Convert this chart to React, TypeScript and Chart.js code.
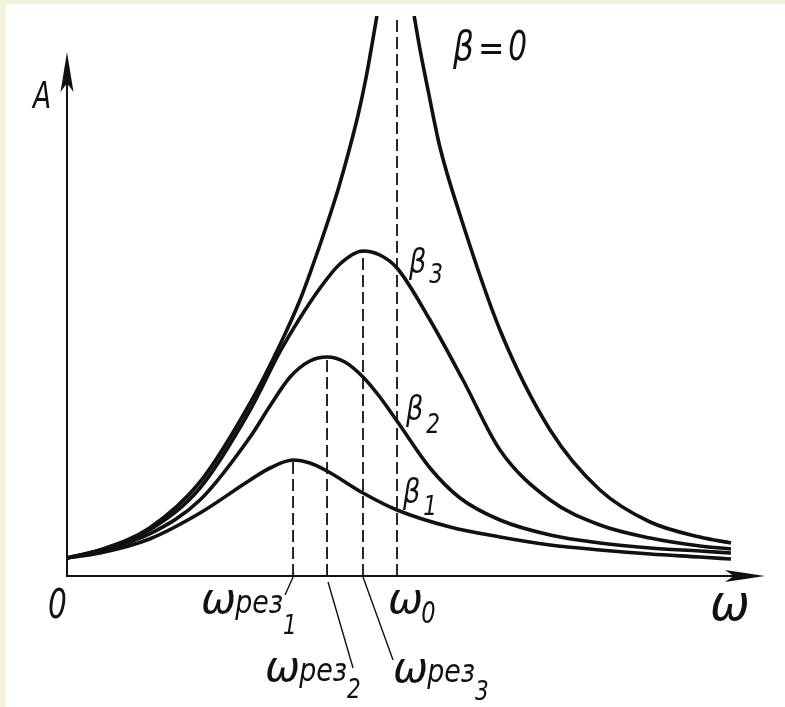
import React, { useEffect, useRef } from "react";
import { Chart, registerables } from "chart.js";

Chart.register(...registerables);

// ---- data (ω in units of ω0, A in arbitrary units) ----
const omegaZero = 1;
const resonanceOmega = [0.685, 0.788, 0.897];
const resonancePeak = [1.16, 2.19, 3.25];

const beta0LeftOmega = [0, 0.1, 0.25, 0.403, 0.555, 0.645, 0.706, 0.742, 0.782, 0.821, 0.855, 0.882, 0.906, 0.924, 0.939];
const beta0LeftA = [0.18, 0.26, 0.48, 0.94, 1.73, 2.31, 2.76, 3.08, 3.46, 3.86, 4.26, 4.61, 4.98, 5.31, 5.6];
const beta0RightOmega = [1.052, 1.07, 1.094, 1.13, 1.191, 1.312, 1.464, 1.615, 1.767, 1.918, 2.012];
const beta0RightA = [5.6, 5.26, 4.86, 4.29, 3.61, 2.46, 1.46, 0.86, 0.54, 0.39, 0.33];

const beta3Omega = [0, 0.1, 0.25, 0.403, 0.555, 0.645, 0.706, 0.767, 0.827, 0.897, 0.948, 1.0, 1.1, 1.2, 1.312, 1.464, 1.615, 1.767, 1.918, 2.012];
const beta3A = [0.18, 0.26, 0.46, 0.88, 1.66, 2.24, 2.58, 2.88, 3.12, 3.25, 3.21, 3.08, 2.56, 1.96, 1.26, 0.76, 0.51, 0.38, 0.3, 0.27];

const beta2Omega = [0, 0.1, 0.25, 0.403, 0.555, 0.615, 0.676, 0.736, 0.788, 0.842, 0.897, 0.948, 1.0, 1.1, 1.191, 1.312, 1.464, 1.615, 1.767, 1.918, 2.012];
const beta2A = [0.18, 0.25, 0.42, 0.76, 1.39, 1.7, 1.99, 2.15, 2.19, 2.14, 1.99, 1.79, 1.55, 1.08, 0.78, 0.56, 0.41, 0.33, 0.28, 0.25, 0.23];

const beta1Omega = [0, 0.1, 0.25, 0.403, 0.555, 0.615, 0.685, 0.736, 0.788, 0.897, 1.0, 1.161, 1.312, 1.464, 1.615, 1.767, 1.918, 2.012];
const beta1A = [0.18, 0.23, 0.37, 0.63, 0.96, 1.08, 1.16, 1.13, 1.05, 0.83, 0.66, 0.49, 0.39, 0.31, 0.26, 0.22, 0.19, 0.17];

const axisMaxOmega = 2.12;
const axisMaxA = 5.6;
const arrowTipOmega = 2.115;
const arrowTipA = 5.24;

const curveLabels = ["β", "β", "β"];
const curveSubs = ["1", "2", "3"];
const resLabelMain = "ω";
const resLabelMid = "рез";
const resSubs = ["1", "2", "3"];

const FONT = '"DejaVu Sans"';
const INK = "#111111";

const pts = (xs: number[], ys: number[]) => xs.map((x, i) => ({ x, y: ys[i] }));

function drawRuns(
  ctx: CanvasRenderingContext2D,
  x: number,
  y: number,
  runs: { t: string; size: number; dy?: number; sx?: number; gap?: number }[]
) {
  let cx = x;
  for (const r of runs) {
    ctx.save();
    ctx.font = `italic ${r.size}px ${FONT}`;
    const w = ctx.measureText(r.t).width * (r.sx ?? 1);
    ctx.translate(cx, y + (r.dy ?? 0));
    ctx.scale(r.sx ?? 1, 1);
    ctx.fillText(r.t, 0, 0);
    ctx.restore();
    cx += w + (r.gap ?? 0);
  }
}

function arrowHead(
  ctx: CanvasRenderingContext2D,
  tx: number,
  ty: number,
  dx: number,
  dy: number,
  len: number,
  half: number
) {
  const bx = tx - dx * len;
  const by = ty - dy * len;
  const nx = -dy;
  const ny = dx;
  const mx = tx - dx * len * 0.78;
  const my = ty - dy * len * 0.78;
  ctx.beginPath();
  ctx.moveTo(tx, ty);
  ctx.lineTo(bx + nx * half, by + ny * half);
  ctx.lineTo(mx, my);
  ctx.lineTo(bx - nx * half, by - ny * half);
  ctx.closePath();
  ctx.fill();
}

const decorPlugin = {
  id: "decor",
  afterDatasetsDraw(chart: any) {
    const ctx: CanvasRenderingContext2D = chart.ctx;
    const xs = chart.scales.x;
    const ys = chart.scales.y;
    const X = (v: number) => xs.getPixelForValue(v);
    const Y = (v: number) => ys.getPixelForValue(v);
    const ox = X(0);
    const oy = Y(0);
    ctx.save();
    ctx.strokeStyle = INK;
    ctx.fillStyle = INK;
    ctx.lineWidth = 2;
    ctx.setLineDash([]);
    // axes
    ctx.beginPath();
    ctx.moveTo(ox, Y(arrowTipA) + 30);
    ctx.lineTo(ox, oy);
    ctx.lineTo(X(arrowTipOmega) - 30, oy);
    ctx.stroke();
    arrowHead(ctx, ox, Y(arrowTipA), 0, -1, 40, 6.5);
    arrowHead(ctx, X(arrowTipOmega), oy, 1, 0, 40, 6);

    // leader lines for resonance labels
    ctx.lineWidth = 1.4;
    const leaders = [
      [0, 1, -8, 19],
      [1, 6, 26, 92],
      [0, 1, 30, 84],
    ];
    resonanceOmega.forEach((w, i) => {
      const px = X(w);
      const [a, b, c, d] = leaders[i];
      ctx.beginPath();
      ctx.moveTo(px + a, oy + b);
      ctx.lineTo(px + c, oy + d);
      ctx.stroke();
    });

    ctx.textBaseline = "alphabetic";
    // axis labels
    drawRuns(ctx, ox - 34, chart.chartArea.top + 92, [{ t: "A", size: 38, sx: 0.7 }]);
    drawRuns(ctx, ox - 19, oy + 42, [{ t: "0", size: 41, sx: 0.72 }]);
    drawRuns(ctx, X(arrowTipOmega) - 55, oy + 44, [{ t: "ω", size: 50, sx: 0.95 }]);
    drawRuns(ctx, X(omegaZero) - 9, oy + 37, [
      { t: "ω", size: 42, sx: 1.0, gap: -2 },
      { t: "0", size: 30, sx: 0.75, dy: 10 },
    ]);

    // resonance labels
    const resPos = [
      [-92, 37],
      [-62, 105],
      [30, 106],
    ];
    const subDrop = [21, 17, 18];
    resonanceOmega.forEach((w, i) => {
      drawRuns(ctx, X(w) + resPos[i][0], oy + resPos[i][1], [
        { t: resLabelMain, size: 42, sx: 1.0, gap: -1 },
        { t: resLabelMid, size: 32, sx: 0.84, gap: 0 },
        { t: resSubs[i], size: 27, sx: 0.8, dy: subDrop[i] },
      ]);
    });

    // beta = 0
    drawRuns(ctx, X(omegaZero) + 56, chart.chartArea.top + 44, [
      { t: "β", size: 41, sx: 0.8, gap: 4 },
      { t: "=", size: 35, sx: 0.9, gap: 4 },
      { t: "0", size: 41, sx: 0.72 },
    ]);

    // curve labels near ω0
    const atOmega0 = [beta1A[beta1Omega.indexOf(1)], beta2A[beta2Omega.indexOf(1)], beta3A[beta3Omega.indexOf(1)]];
    const lblOff = [
      [6, -7, 12],
      [9, -1, 13],
      [12, 5, 10],
    ];
    curveLabels.forEach((b, i) => {
      drawRuns(ctx, X(omegaZero) + lblOff[i][0], Y(atOmega0[i]) + lblOff[i][1], [
        { t: b, size: 34, sx: 0.8, gap: 3 },
        { t: curveSubs[i], size: 27, sx: 0.8, dy: lblOff[i][2] },
      ]);
    });
    ctx.restore();
  },
};

export default function App() {
  const ref = useRef<HTMLCanvasElement | null>(null);
  useEffect(() => {
    if (!ref.current) return;
    const curve = (data: { x: number; y: number }[]) => ({
      data,
      borderColor: INK,
      borderWidth: 3.6,
      pointRadius: 0,
      fill: false,
      cubicInterpolationMode: "monotone" as const,
      borderCapStyle: "butt" as const,
    });
    const dashed = (x: number, top: number) => ({
      data: [
        { x, y: 0 },
        { x, y: top },
      ],
      borderColor: INK,
      borderWidth: 1.8,
      borderDash: [12, 5],
      pointRadius: 0,
      fill: false,
      tension: 0,
    });
    const datasets: any[] = [
      dashed(omegaZero, axisMaxA),
      ...resonanceOmega.map((w, i) => dashed(w, resonancePeak[i])),
      curve(pts(beta0LeftOmega, beta0LeftA)),
      curve(pts(beta0RightOmega, beta0RightA)),
      curve(pts(beta3Omega, beta3A)),
      curve(pts(beta2Omega, beta2A)),
      curve(pts(beta1Omega, beta1A)),
    ];
    const chart = new Chart(ref.current, {
      type: "line",
      data: { datasets },
      options: {
        responsive: false,
        animation: false,
        devicePixelRatio: 1,
        events: [],
        layout: { padding: { left: 61, top: 12, right: 779 - 61 - axisMaxOmega * 330, bottom: 131 } },
        plugins: { legend: { display: false }, tooltip: { enabled: false } },
        scales: {
          x: { type: "linear", min: 0, max: axisMaxOmega, display: false },
          y: { type: "linear", min: 0, max: axisMaxA, display: false },
        },
      },
      plugins: [decorPlugin],
    });
    return () => chart.destroy();
  }, []);
  return (
    <div style={{ position: "fixed", left: 0, top: 0, width: 785, height: 707, background: "#f3f3dc", overflow: "hidden" }}>
      <canvas
        ref={ref}
        width={779}
        height={703}
        style={{ position: "absolute", left: 6, top: 4, width: 779, height: 703, background: "#ffffff" }}
      />
    </div>
  );
}
